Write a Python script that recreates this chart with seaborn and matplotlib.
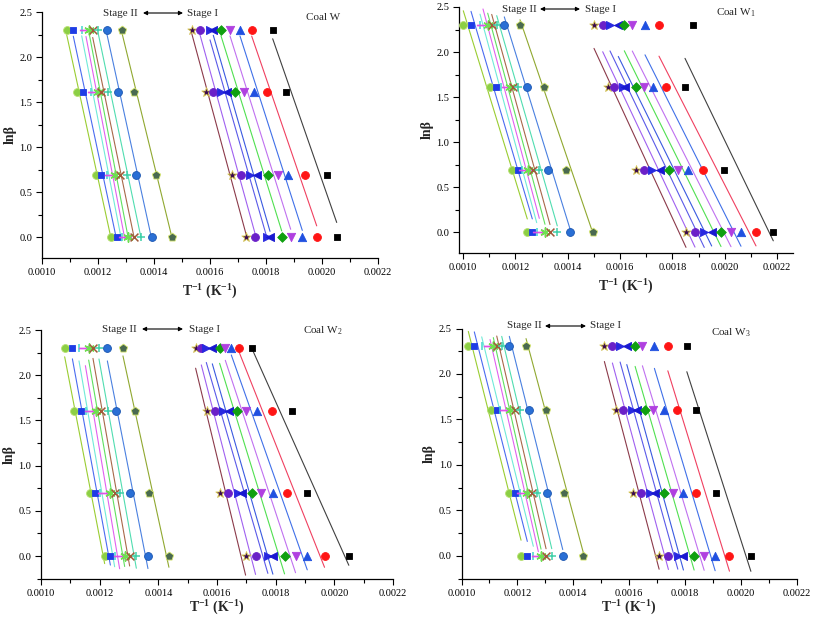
import numpy as np
import pandas as pd
import matplotlib
matplotlib.use("Agg")
import matplotlib.pyplot as plt
import seaborn as sns
from matplotlib.ticker import MultipleLocator, FormatStrFormatter

# ---------------- data ----------------
ln_beta = [2.303, 1.609, 0.693, 0.0]          # ln(heating rate) rows
panel_titles = ["Coal W", "Coal W$_1$", "Coal W$_2$", "Coal W$_3$"]

# T^-1 values in 1e-3 K^-1 ; rows follow ln_beta, columns follow the 9 series
W_stage2 = [
    [1.0882, 1.1118, 1.1418, 1.1571, 1.1689, 1.1811, 1.2011, 1.2311, 1.2846],
    [1.1239, 1.1454, 1.1739, 1.1868, 1.2011, 1.2107, 1.2368, 1.2704, 1.3296],
    [1.1929, 1.2107, 1.2311, 1.2464, 1.2607, 1.2786, 1.3025, 1.3357, 1.4061],
    [1.2464, 1.2668, 1.2846, 1.2964, 1.3082, 1.3296, 1.3536, 1.3918, 1.4632],
]
W_stage1 = [
    [1.5346, 1.5643, 1.6000, 1.6118, 1.6393, 1.6714, 1.7071, 1.7489, 1.8239],
    [1.5846, 1.6118, 1.6393, 1.6596, 1.6893, 1.7214, 1.7582, 1.8025, 1.8714],
    [1.6775, 1.7107, 1.7429, 1.7668, 1.8061, 1.8418, 1.8796, 1.9393, 2.0189],
    [1.7286, 1.7607, 1.8025, 1.8143, 1.8561, 1.8882, 1.9296, 1.9811, 2.0525],
]
W1_stage2 = [
    [1.0011, 1.0306, 1.0650, 1.0764, 1.0944, 1.1097, 1.1288, 1.1578, 1.2178],
    [1.1032, 1.1261, 1.1452, 1.1731, 1.1796, 1.1922, 1.2113, 1.2457, 1.3095],
    [1.1861, 1.2090, 1.2243, 1.2369, 1.2495, 1.2686, 1.2916, 1.3259, 1.3924],
    [1.2457, 1.2648, 1.2816, 1.2916, 1.3133, 1.3324, 1.3603, 1.4089, 1.4956],
]
W1_stage1 = [
    [1.5006, 1.5338, 1.5617, 1.5934, 1.6164, 1.6469, 1.6955, 1.7489, 1.8800],
    [1.5552, 1.5770, 1.6102, 1.6190, 1.6611, 1.6928, 1.7272, 1.7757, 1.8483],
    [1.6599, 1.6916, 1.7211, 1.7528, 1.7883, 1.8204, 1.8609, 1.9159, 1.9973],
    [1.8521, 1.8865, 1.9220, 1.9503, 1.9859, 2.0241, 2.0623, 2.1196, 2.1857],
]
W2_stage2 = [
    [1.0807, 1.1070, 1.1295, 1.1513, 1.1625, 1.1772, 1.1976, 1.2262, 1.2794],
    [1.1124, 1.1353, 1.1547, 1.1717, 1.1888, 1.2058, 1.2283, 1.2569, 1.3216],
    [1.1659, 1.1853, 1.2000, 1.2147, 1.2341, 1.2511, 1.2681, 1.3022, 1.3680],
    [1.2170, 1.2365, 1.2511, 1.2681, 1.2852, 1.3022, 1.3250, 1.3646, 1.4361],
]
W2_stage1 = [
    [1.5271, 1.5465, 1.5635, 1.5840, 1.6089, 1.6283, 1.6487, 1.6746, 1.7203],
    [1.5656, 1.5942, 1.6201, 1.6405, 1.6692, 1.6998, 1.7373, 1.7871, 1.8566],
    [1.6089, 1.6371, 1.6712, 1.6848, 1.7189, 1.7509, 1.7905, 1.8382, 1.9077],
    [1.6975, 1.7315, 1.7734, 1.7905, 1.8303, 1.8678, 1.9077, 1.9666, 2.0494],
]
W3_stage2 = [
    [1.0244, 1.0459, 1.0724, 1.1022, 1.1140, 1.1262, 1.1441, 1.1713, 1.2312],
    [1.1057, 1.1262, 1.1380, 1.1595, 1.1738, 1.1918, 1.2097, 1.2419, 1.3029],
    [1.1713, 1.1918, 1.2097, 1.2215, 1.2358, 1.2516, 1.2717, 1.3054, 1.3685],
    [1.2133, 1.2358, 1.2573, 1.2753, 1.2849, 1.3029, 1.3233, 1.3627, 1.4366],
]
W3_stage1 = [
    [1.5118, 1.5405, 1.5681, 1.5921, 1.6219, 1.6480, 1.6910, 1.7391, 1.8072],
    [1.5527, 1.5799, 1.6100, 1.6301, 1.6577, 1.6875, 1.7258, 1.7713, 1.8394],
    [1.6136, 1.6434, 1.6756, 1.6935, 1.7269, 1.7570, 1.7950, 1.8405, 1.9111],
    [1.7079, 1.7412, 1.7749, 1.7950, 1.8333, 1.8692, 1.9086, 1.9599, 2.0366],
]
# vertical shift of the drawn fit lines as seen in each panel
line_shift_stage2 = [0.03, 0.05, -0.01, 0.05]
line_shift_stage1 = [0.0, 0.0, -0.05, 0.0]

# ---------------- styles ----------------
s2_markers = ["o", "s", "|", r"$\rightarrow$", (6, 2, 0), "x", "+", "o", "p"]
s2_mcolors = ["#8CCF45", "#1E3CE6", "#40D8CC", "#E050E8", "#6EE050",
              "#A05A3A", "#40D0A8", "#2A6FD5", "#4A6A50"]
s2_medges = ["#B8E070", "#1E3CE6", None, "#E050E8", None,
             None, None, "#1A55B0", "#D8E870"]
s2_lcolors = ["#9ACD32", "#4A6BF0", "#70EAD8", "#E060F0", "#60E060",
              "#A8684A", "#50DDB0", "#4A80E0", "#90A830"]
s2_sizes = [32, 20, 40, 80, 44, 32, 40, 32, 40]

s1_markers = ["*", "o", ">", "<", "D", "v", "^", "o", "s"]
s1_mcolors = ["#3A0A50", "#6A20C8", "#2828E0", "#1818D0", "#10A010",
              "#B040E0", "#2050E0", "#FF1515", "#000000"]
s1_medges = ["#D8C850", "#6A20C8", "#2828E0", "#1818D0", "#10A010",
             "#B040E0", "#2050E0", "#FF1515", "#000000"]
s1_lcolors = ["#8B3A4A", "#A060F0", "#5A5AE8", "#3A5AE0", "#50E050",
              "#C070F0", "#4070E8", "#F04060", "#404040"]
s1_sizes = [50, 32, 34, 34, 24, 36, 36, 32, 19]

sns.set_theme(style="ticks")
plt.rcParams["font.family"] = ["Liberation Serif", "DejaVu Serif"]
plt.rcParams["mathtext.fontset"] = "custom"
plt.rcParams["mathtext.rm"] = "Liberation Serif"
plt.rcParams["mathtext.it"] = "Liberation Serif:italic"
plt.rcParams["mathtext.bf"] = "Liberation Serif:bold"

W, H = 813, 622
fig = plt.figure(figsize=(W / 100, H / 100), dpi=100)


def fig_axes(left, right, top, bottom):
    return fig.add_axes([left / W, 1 - bottom / H, (right - left) / W, (bottom - top) / H])


panels = [
    dict(box=(42, 378, 12, 258), xlim=(1.0, 2.2), ylim=(-0.233, 2.5),
         s2=W_stage2, s1=W_stage1, xpad=4),
    dict(box=(459, 793, 7, 253), xlim=(0.9847, 2.261), ylim=(-0.233, 2.5),
         s2=W1_stage2, s1=W1_stage1, xpad=4),
    dict(box=(41, 393, 330, 579), xlim=(1.0, 2.2), ylim=(-0.254, 2.5),
         s2=W2_stage2, s1=W2_stage1, xpad=1),
    dict(box=(461.5, 796.5, 328.5, 579), xlim=(1.0, 2.2), ylim=(-0.253, 2.5),
         s2=W3_stage2, s1=W3_stage1, xpad=1),
]

# text anchor pixels per panel: stageII centre, arrow start/end, stageI centre, coal label
text_px = [
    dict(s2=(120, 13), arr=(143, 183, 13), s1=(202, 13), coal=(323, 18)),
    dict(s2=(519, 9), arr=(540, 580, 9), s1=(600, 9), coal=(736, 13)),
    dict(s2=(119, 329), arr=(142, 183, 329), s1=(204, 329), coal=(323, 331)),
    dict(s2=(524, 326), arr=(545, 586, 326), s1=(605, 326), coal=(731, 333)),
]


def draw_stage(ax, rows, markers, mcolors, medges, lcolors, sizes, shift):
    arr = np.array(rows) * 1e-3
    yv = np.array(ln_beta)
    for j in range(arr.shape[1]):
        xs = arr[:, j]
        k, b = np.polyfit(xs, yv, 1)
        xl = np.array([xs.min(), xs.max()])
        sns.lineplot(x=xl, y=k * xl + b + shift, ax=ax, color=lcolors[j],
                     lw=0.8, zorder=2, legend=False, sort=False)
        df = pd.DataFrame({"x": xs, "y": yv})
        kw = dict(marker=markers[j], s=sizes[j], zorder=3, legend=False)
        m = markers[j]
        if m in ("|", "+", "x") or isinstance(m, tuple):
            sns.scatterplot(data=df, x="x", y="y", ax=ax, color=mcolors[j],
                            linewidth=1.1, **kw)
        else:
            sns.scatterplot(data=df, x="x", y="y", ax=ax, color=mcolors[j],
                            edgecolor=medges[j], linewidth=0.6, **kw)


for i, p in enumerate(panels):
    ax = fig_axes(*p["box"])
    draw_stage(ax, p["s2"], s2_markers, s2_mcolors, s2_medges, s2_lcolors,
               s2_sizes, line_shift_stage2[i])
    draw_stage(ax, p["s1"], s1_markers, s1_mcolors, s1_medges, s1_lcolors,
               s1_sizes, line_shift_stage1[i])
    ax.set_xlim(p["xlim"][0] * 1e-3, p["xlim"][1] * 1e-3)
    ax.set_ylim(*p["ylim"])
    ax.xaxis.set_major_locator(MultipleLocator(0.0002))
    ax.xaxis.set_minor_locator(MultipleLocator(0.0001))
    ax.yaxis.set_major_locator(MultipleLocator(0.5))
    ax.yaxis.set_minor_locator(MultipleLocator(0.25))
    ax.xaxis.set_major_formatter(FormatStrFormatter("%.4f"))
    ax.yaxis.set_major_formatter(FormatStrFormatter("%.1f"))
    ax.tick_params(which="both", direction="out", labelsize=7.5, width=0.8,
                   colors="black", pad=3)
    ax.tick_params(which="major", length=4)
    ax.tick_params(which="minor", length=3)
    for side in ("top", "right"):
        ax.spines[side].set_visible(False)
    for side in ("left", "bottom"):
        ax.spines[side].set_linewidth(0.9)
        ax.spines[side].set_color("black")
    ax.set_facecolor("white")
    ax.set_xlabel(r"$\mathbf{T^{-1}\ (K^{-1})}$", fontsize=10, labelpad=p["xpad"])
    ax.set_ylabel("lnβ", fontsize=10, fontweight="bold", labelpad=2)

    t = text_px[i]
    fig.text(t["s2"][0] / W, 1 - t["s2"][1] / H, "Stage II", ha="center",
             va="center", fontsize=8)
    fig.text(t["s1"][0] / W, 1 - t["s1"][1] / H, "Stage I", ha="center",
             va="center", fontsize=8)
    fig.text(t["coal"][0] / W, 1 - t["coal"][1] / H, panel_titles[i],
             ha="center", va="center", fontsize=8)
    x0, x1, yy = t["arr"]
    ax.annotate("", xy=(x1 / W, 1 - yy / H), xytext=(x0 / W, 1 - yy / H),
                xycoords="figure fraction", textcoords="figure fraction",
                arrowprops=dict(arrowstyle="<|-|>", color="black", lw=0.8,
                                mutation_scale=6, shrinkA=0, shrinkB=0))

fig.savefig("out.png", dpi=100, facecolor="white")
